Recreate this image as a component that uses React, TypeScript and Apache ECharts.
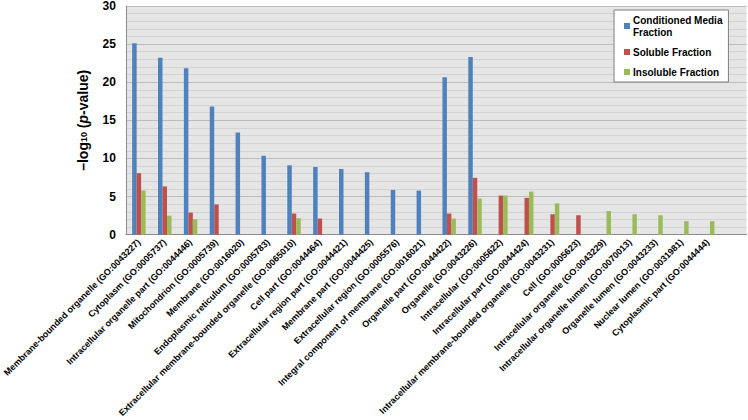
import React, { useEffect, useRef } from 'react';
import * as echarts from 'echarts';

const categories = [
  'Membrane-bounded organelle (GO:0043227)',
  'Cytoplasm (GO:0005737)',
  'Intracellular organelle part (GO:0044446)',
  'Mitochondrion (GO:0005739)',
  'Membrane (GO:0016020)',
  'Endoplasmic reticulum (GO:0005783)',
  'Extracellular membrane-bounded organelle (GO:0065010)',
  'Cell part (GO:0044464)',
  'Extracellular region part (GO:0044421)',
  'Membrane part (GO:0044425)',
  'Extracellular region (GO:0005576)',
  'Integral component of membrane (GO:0016021)',
  'Organelle part (GO:0044422)',
  'Organelle (GO:0043226)',
  'Intracellular (GO:0005622)',
  'Intracellular part (GO:0044424)',
  'Intracellular membrane-bounded organelle (GO:0043231)',
  'Cell (GO:0005623)',
  'Intracellular organelle (GO:0043229)',
  'Intracellular organelle lumen (GO:0070013)',
  'Organelle lumen (GO:0043233)',
  'Nuclear lumen (GO:0031981)',
  'Cytoplasmic part (GO:0044444)',
];

const seriesNames = ['Conditioned Media Fraction', 'Soluble Fraction', 'Insoluble Fraction'];

const conditionedMedia = [25.1, 23.2, 21.85, 16.8, 13.4, 10.35, 9.1, 8.88, 8.62, 8.2, 5.87, 5.78, 20.65, 23.3, null, null, null, null, null, null, null, null, null];
const soluble = [8.07, 6.33, 2.9, 3.97, null, null, 2.77, 2.12, null, null, null, null, 2.77, 7.46, 5.13, 4.83, 2.68, 2.55, null, null, null, null, null];
const insoluble = [5.8, 2.5, 2.03, null, null, null, 2.16, null, null, null, null, null, 2.12, 4.74, 5.13, 5.65, 4.1, null, 3.1, 2.68, 2.55, 1.77, 1.77];

const yMin = 0;
const yMax = 30;
const yInterval = 5;

const colors = ['#4f81bd', '#c0504d', '#9bbb59'];
const FONT = "'Liberation Sans', Arial, sans-serif";

export default function App() {
  const ref = useRef<HTMLDivElement>(null);

  useEffect(() => {
    if (!ref.current) return;
    const chart = echarts.init(ref.current, null, { renderer: 'svg' });
    const bg = '#e5e5e5';
    const major = '#bcbcbc';
    const minor = '#d3d3d3';
    const axisCol = '#8c8c8c';
    chart.setOption({
      animation: false,
      color: colors,
      textStyle: { fontFamily: FONT },
      grid: { left: 122, right: 1.5, top: 5, bottom: 184, show: true, backgroundColor: bg, borderWidth: 0 },
      legend: {
        orient: 'vertical',
        left: 614,
        top: 10,
        data: seriesNames,
        formatter: (n: string) => (n === seriesNames[0] ? 'Conditioned Media\nFraction' : n),
        itemWidth: 6,
        itemHeight: 6,
        itemGap: 8,
        icon: 'rect',
        padding: [4, 6, 4, 10],
        backgroundColor: '#ffffff',
        borderColor: '#7f7f7f',
        borderWidth: 1,
        textStyle: { fontFamily: FONT, fontWeight: 'bold', fontSize: 10, color: '#000', lineHeight: 12, padding: [0, 0, 0, -2] },
      },
      xAxis: {
        type: 'category',
        data: categories,
        max: categories.length,
        axisLine: { show: true, lineStyle: { color: axisCol } },
        axisTick: { show: false },
        axisLabel: {
          interval: 0,
          rotate: 45,
          margin: 6,
          fontSize: 9,
          fontWeight: 'bold',
          color: '#000',
          fontFamily: FONT,
          formatter: (v: any) => (v == null || v === 'undefined' ? '' : String(v)),
        },
      },
      yAxis: {
        type: 'value',
        min: yMin,
        max: yMax,
        interval: yInterval,
        axisLine: { show: true, lineStyle: { color: axisCol } },
        axisTick: { show: false },
        axisLabel: { fontSize: 12, fontWeight: 'bold', color: '#000', margin: 10, fontFamily: FONT },
        splitLine: { show: true, lineStyle: { color: major, width: 1 } },
        minorSplitLine: { show: true, lineStyle: { color: minor, width: 1 } },
        minorTick: { show: false, splitNumber: 5 },
        name: '{a|–log}{s|10}{a| (}{i|p}{a|-value)}',
        nameLocation: 'middle',
        nameRotate: 90,
        nameGap: 33,
        nameTextStyle: {
          rich: {
            a: { fontSize: 14, fontWeight: 'bold', color: '#000', fontFamily: FONT, padding: [0, 0, 3, 0] },
            i: { fontSize: 14, fontWeight: 'bold', fontStyle: 'italic', color: '#000', fontFamily: FONT, padding: [0, 0, 3, 0] },
            s: { fontSize: 9, fontWeight: 'bold', color: '#000', fontFamily: FONT },
          },
        },
      },
      series: [
        { name: seriesNames[0], type: 'bar', data: conditionedMedia, barGap: '0%', barCategoryGap: '48%' },
        { name: seriesNames[1], type: 'bar', data: soluble, barGap: '0%', barCategoryGap: '48%' },
        { name: seriesNames[2], type: 'bar', data: insoluble, barGap: '0%', barCategoryGap: '48%' },
      ],
    });
    return () => chart.dispose();
  }, []);

  return (
    <div
      ref={ref}
      style={{ position: 'absolute', left: 0, top: 0, width: 748, height: 420, background: '#fff' }}
    />
  );
}
